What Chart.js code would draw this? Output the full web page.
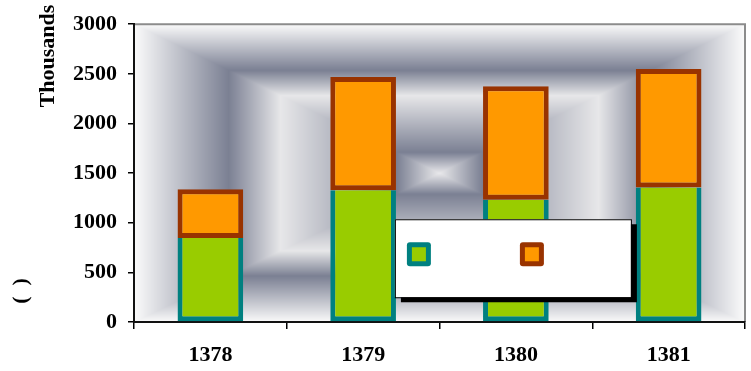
<!DOCTYPE html>
<html>
<head>
<meta charset="utf-8">
<script src="https://cdn.jsdelivr.net/npm/chart.js@4.4.1/dist/chart.umd.min.js"></script>
<style>
  html, body { margin: 0; padding: 0; background: #fff; }
  #wrap { width: 751px; height: 371px; }
</style>
</head>
<body>
<div id="wrap"><canvas id="chart" width="751" height="371"></canvas></div>
<script>
// data
const years = ['1378', '1379', '1380', '1381'];
const lowerSeries = [847, 1328, 1231, 1354];
const upperSeries = [491, 1140, 1144, 1194];
const yTicks = [0, 500, 1000, 1500, 2000, 2500, 3000];
const seriesNames = ['', ''];
const unitLabel = 'Thousands';
const axisTitle = '(  )';

const serif = 'Liberation Serif, Times New Roman, serif';

// rectangular "from center" gradient of the plot area
const bgStops = [
    [0.00, [233, 233, 235]],
    [0.14, [123, 128, 147]],
    [0.52, [231, 231, 233]],
    [0.69, [123, 128, 147]],
    [1.00, [251, 251, 251]]
];

function stopColor(t) {
    for (let i = 1; i < bgStops.length; i++) {
        if (t <= bgStops[i][0]) {
            const a = bgStops[i - 1], b = bgStops[i];
            const k = (t - a[0]) / (b[0] - a[0]);
            return a[1].map((c, j) => c + (b[1][j] - c) * k);
        }
    }
    return bgStops[bgStops.length - 1][1];
}

const plotBackground = {
    id: 'plotBackground',
    beforeDraw(chart) {
        const { ctx, chartArea: a } = chart;
        const w = Math.round(a.right - a.left), h = Math.round(a.bottom - a.top);
        const off = document.createElement('canvas');
        off.width = w; off.height = h;
        const octx = off.getContext('2d');
        const img = octx.createImageData(w, h);
        const hw = w / 2, hh = h / 2;
        for (let y = 0; y < h; y++) {
            for (let x = 0; x < w; x++) {
                const t = Math.min(1, Math.max(Math.abs(x + 0.5 - hw) / hw, Math.abs(y + 0.5 - hh) / hh));
                const c = stopColor(t);
                const i = (y * w + x) * 4;
                img.data[i] = c[0]; img.data[i + 1] = c[1]; img.data[i + 2] = c[2]; img.data[i + 3] = 255;
            }
        }
        octx.putImageData(img, 0, 0);
        ctx.save();
        ctx.drawImage(off, a.left, a.top);
        // grey frame on top and right
        ctx.strokeStyle = '#8c8c8c';
        ctx.lineWidth = 2;
        ctx.beginPath();
        ctx.moveTo(a.left, a.top);
        ctx.lineTo(a.right, a.top);
        ctx.lineTo(a.right, a.bottom);
        ctx.stroke();
        ctx.restore();
    }
};

const extras = {
    id: 'extras',
    afterDraw(chart) {
        const { ctx, chartArea: a } = chart;
        ctx.save();

        // rotated axis texts
        ctx.fillStyle = '#000';
        ctx.font = 'bold 22px ' + serif;
        ctx.textAlign = 'center';
        ctx.textBaseline = 'middle';
        ctx.save();
        ctx.translate(48, 56);
        ctx.rotate(-Math.PI / 2);
        ctx.fillText(unitLabel, 0, 0);
        ctx.restore();
        ctx.save();
        ctx.translate(21, 291);
        ctx.rotate(-Math.PI / 2);
        ctx.fillText(axisTitle, 0, 0);
        ctx.restore();

        // legend box with shadow
        const pw = a.right - a.left, ph = a.bottom - a.top;
        const lx = a.left + pw * 0.427, ly = a.top + ph * 0.655;
        const lw = 236, lh = 78;
        ctx.fillStyle = '#000';
        ctx.fillRect(lx + 6, ly + 5, lw, lh);
        ctx.fillStyle = '#fff';
        ctx.fillRect(lx, ly, lw, lh);
        ctx.strokeStyle = '#000';
        ctx.lineWidth = 1;
        ctx.strokeRect(lx + 0.5, ly + 0.5, lw, lh);

        const slots = [lx + 12, lx + 125];
        chart.data.datasets.forEach((ds, i) => {
            const mx = slots[i], my = ly + 23;
            ctx.fillStyle = ds.borderColor;
            ctx.beginPath();
            ctx.roundRect(mx, my, 24, 24, 3);
            ctx.fill();
            ctx.fillStyle = ds.backgroundColor;
            ctx.fillRect(mx + 5, my + 5, 14, 14);
            ctx.fillStyle = '#000';
            ctx.font = 'bold 18px ' + serif;
            ctx.textAlign = 'left';
            ctx.fillText(ds.label, mx + 32, my + 12);
        });
        ctx.restore();
    }
};

const tickFont = { family: serif, size: 22, weight: 'bold' };

new Chart(document.getElementById('chart'), {
    type: 'bar',
    data: {
        labels: years,
        datasets: [
            {
                label: seriesNames[0],
                data: lowerSeries,
                backgroundColor: '#99cc00',
                borderColor: '#008080',
                borderWidth: { top: 0, left: 5, right: 5, bottom: 5 },
                borderSkipped: false,
                barPercentage: 0.43,
                categoryPercentage: 1
            },
            {
                label: seriesNames[1],
                data: upperSeries,
                backgroundColor: '#ff9900',
                borderColor: '#993300',
                borderWidth: 5,
                borderSkipped: false,
                barPercentage: 0.43,
                categoryPercentage: 1
            }
        ]
    },
    options: {
        responsive: false,
        animation: false,
        layout: { padding: { left: 0, right: 6, top: 22, bottom: 0 } },
        plugins: {
            legend: { display: false },
            tooltip: { enabled: false }
        },
        scales: {
            x: {
                stacked: true,
                grid: { drawOnChartArea: false, offset: true, tickLength: 7, color: '#000', lineWidth: 1.5 },
                border: { color: '#111', width: 2 },
                ticks: { color: '#000', padding: 13, font: tickFont },
                afterFit(scale) { scale.height = 49; }
            },
            y: {
                stacked: true,
                min: yTicks[0],
                max: yTicks[yTicks.length - 1],
                afterBuildTicks(scale) { scale.ticks = yTicks.map(v => ({ value: v })); },
                grid: { drawOnChartArea: false, tickLength: 6, color: '#000', lineWidth: 1.5 },
                border: { color: '#111', width: 2 },
                ticks: { color: '#000', padding: 11, font: tickFont, callback: v => String(v) },
                afterFit(scale) { scale.width = 134; }
            }
        }
    },
    plugins: [plotBackground, extras]
});
</script>
</body>
</html>
